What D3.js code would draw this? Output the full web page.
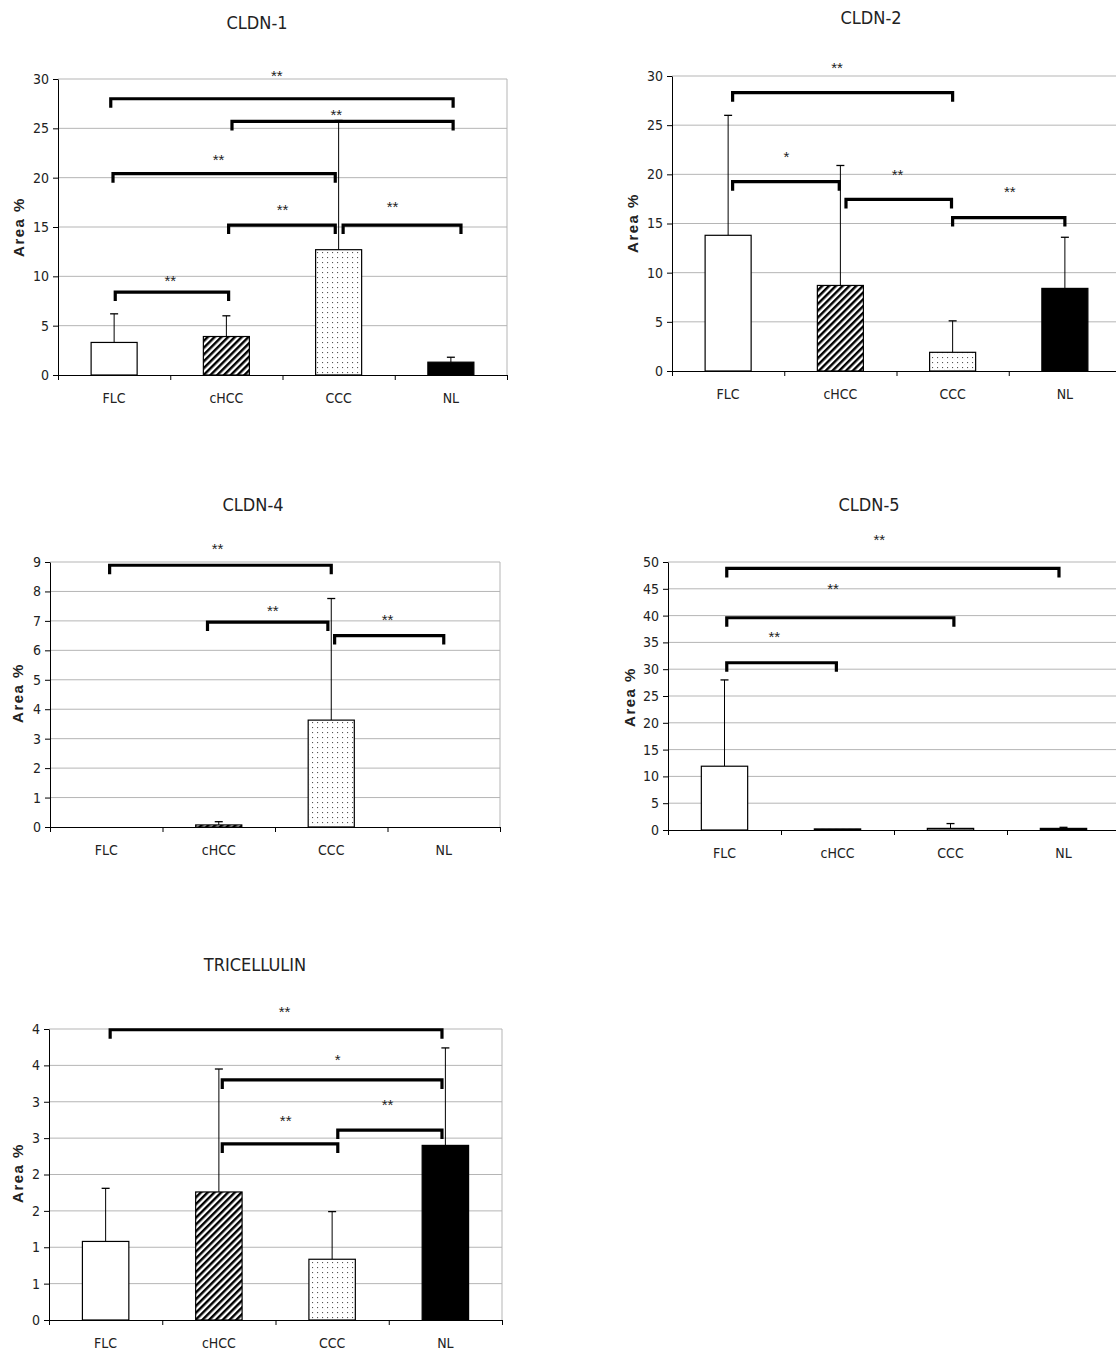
<!DOCTYPE html>
<html>
<head>
<meta charset="utf-8">
<script src="https://cdn.jsdelivr.net/npm/d3@7"></script>
<style>
body{margin:0;background:#fff;}
text{font-family:"Liberation Sans Narrow","DejaVu Sans Condensed","Arial Narrow",sans-serif;}
</style>
</head>
<body>
<div id="chart"></div>
<script>
var categories = ["FLC", "cHCC", "CCC", "NL"];

// means and standard deviations (Area %)
var cldn1Mean = [3.3, 3.9, 12.7, 1.3];
var cldn1Sd   = [2.9, 2.1, 13.1, 0.5];
var cldn2Mean = [13.8, 8.7, 1.9, 8.4];
var cldn2Sd   = [12.2, 12.2, 3.2, 5.2];
var cldn4Mean = [0, 0.07, 3.63, 0];
var cldn4Sd   = [0, 0.11, 4.13, 0];
var cldn5Mean = [11.9, 0.2, 0.3, 0.3];
var cldn5Sd   = [16.1, 0, 0.9, 0.2];
var tricMean  = [1.08, 1.76, 0.835, 2.40];
var tricSd    = [0.73, 1.69, 0.655, 1.34];

// tick values / labels
var ticks30 = [0, 5, 10, 15, 20, 25, 30];
var ticks9  = [0, 1, 2, 3, 4, 5, 6, 7, 8, 9];
var ticks50 = [0, 5, 10, 15, 20, 25, 30, 35, 40, 45, 50];
var tricTicks = [0, 0.5, 1, 1.5, 2, 2.5, 3, 3.5, 4];
var tricTickLabels = ["0", "1", "1", "2", "2", "3", "3", "4", "4"];

// significance brackets: [from, to, level, label, labelPos, labelLevel]
// from/to/labelPos in category units (0 = FLC ... 3 = NL)
var cldn1Brackets = [
  [-0.03, 3.02, 28.0, "**", 1.45, 30.6],
  [1.05, 3.02, 25.7, "**", 1.98, 26.7],
  [-0.01, 1.97, 20.4, "**", 0.93, 22.1],
  [1.02, 1.97, 15.2, "**", 1.50, 17.0],
  [2.04, 3.09, 15.2, "**", 2.48, 17.3],
  [0.01, 1.02, 8.4, "**", 0.50, 9.8]
];
var cldn2Brackets = [
  [0.04, 2.0, 28.3, "**", 0.97, 31.1],
  [0.04, 0.99, 19.25, "*", 0.52, 22.1],
  [1.05, 1.99, 17.45, "**", 1.51, 20.2],
  [2.0, 3.0, 15.6, "**", 2.51, 18.5]
];
var cldn4Brackets = [
  [0.03, 2.0, 8.89, "**", 0.99, 9.56],
  [0.9, 1.97, 6.96, "**", 1.48, 7.44],
  [2.03, 3.0, 6.5, "**", 2.5, 7.12]
];
var cldn5Brackets = [
  [0.02, 2.96, 48.8, "**", 1.37, 54.7],
  [0.02, 2.03, 39.6, "**", 0.96, 45.6],
  [0.02, 0.99, 31.2, "**", 0.44, 36.5]
];
var tricBrackets = [
  [0.04, 2.97, 3.99, "**", 1.58, 4.27],
  [1.03, 2.97, 3.30, "*", 2.05, 3.62],
  [2.05, 2.97, 2.61, "**", 2.49, 3.0],
  [1.03, 2.05, 2.42, "**", 1.59, 2.77]
];

var fills = ["#fff", "url(#hatch)", "url(#dots)", "#000"];

var panels = [
  {title: "CLDN-1", mean: cldn1Mean, sd: cldn1Sd, yMax: 30, ticks: ticks30, brackets: cldn1Brackets,
   box: {x0: 58, x1: 507, top: 79, bottom: 375}, titlePos: [257, 23], ylabPos: [19, 227]},
  {title: "CLDN-2", mean: cldn2Mean, sd: cldn2Sd, yMax: 30, ticks: ticks30, brackets: cldn2Brackets,
   box: {x0: 672, x1: 1121, top: 76, bottom: 371}, titlePos: [871, 18], ylabPos: [633, 223]},
  {title: "CLDN-4", mean: cldn4Mean, sd: cldn4Sd, yMax: 9, ticks: ticks9, brackets: cldn4Brackets,
   box: {x0: 50, x1: 500, top: 562, bottom: 827}, titlePos: [253, 505], ylabPos: [18, 693]},
  {title: "CLDN-5", mean: cldn5Mean, sd: cldn5Sd, yMax: 50, ticks: ticks50, brackets: cldn5Brackets,
   box: {x0: 668, x1: 1120, top: 562, bottom: 830}, titlePos: [869, 505], ylabPos: [630, 697]},
  {title: "TRICELLULIN", mean: tricMean, sd: tricSd, yMax: 4, ticks: tricTicks, tickLabels: tricTickLabels,
   brackets: tricBrackets, box: {x0: 49, x1: 502, top: 1029, bottom: 1320}, titlePos: [255, 965], ylabPos: [18, 1173]}
];

var svg = d3.select("#chart").append("svg")
  .attr("width", 1116).attr("height", 1358);

var defs = svg.append("defs");
var hatch = defs.append("pattern").attr("id", "hatch")
  .attr("patternUnits", "userSpaceOnUse").attr("width", 4.8).attr("height", 4.8)
  .attr("patternTransform", "rotate(45)");
hatch.append("rect").attr("width", 4.8).attr("height", 4.8).attr("fill", "#fff");
hatch.append("line").attr("x1", 1.2).attr("x2", 1.2).attr("y1", 0).attr("y2", 4.8)
  .attr("stroke", "#000").attr("stroke-width", 2.5);

var dots = defs.append("pattern").attr("id", "dots")
  .attr("patternUnits", "userSpaceOnUse").attr("width", 5).attr("height", 5);
dots.append("rect").attr("width", 5).attr("height", 5).attr("fill", "#fff");
dots.append("rect").attr("x", 2).attr("y", 2).attr("width", 1.1).attr("height", 1.1).attr("fill", "#555");
dots.append("rect").attr("x", 4.5).attr("y", 4.5).attr("width", 0.8).attr("height", 0.8).attr("fill", "#ccc");

panels.forEach(drawPanel);

function drawPanel(p) {
  var b = p.box;
  var g = svg.append("g");
  var y = d3.scaleLinear().domain([0, p.yMax]).range([b.bottom, b.top]);
  var xPos = d3.scaleLinear().domain([-0.5, 3.5]).range([b.x0, b.x1]);
  var xBand = d3.scaleBand().domain(categories).range([b.x0, b.x1])
    .paddingInner(0.59).paddingOuter(0.295);

  // grid + plot box
  g.append("g").selectAll("line").data(p.ticks.filter(function(t){ return t > 0; }))
    .join("line")
    .attr("x1", b.x0).attr("x2", b.x1)
    .attr("y1", function(d){ return y(d); }).attr("y2", function(d){ return y(d); })
    .attr("stroke", "#b5b5b5").attr("stroke-width", 1);
  g.append("line").attr("x1", b.x1).attr("x2", b.x1).attr("y1", b.top).attr("y2", b.bottom)
    .attr("stroke", "#b5b5b5");

  // error bars (upper only)
  var eb = g.append("g").selectAll("g").data(p.mean.map(function(m, i){ return {m: m, s: p.sd[i], c: categories[i]}; })
      .filter(function(d){ return d.s > 0; }))
    .join("g");
  eb.append("line")
    .attr("x1", function(d){ return xBand(d.c) + xBand.bandwidth() / 2; })
    .attr("x2", function(d){ return xBand(d.c) + xBand.bandwidth() / 2; })
    .attr("y1", function(d){ return y(d.m); })
    .attr("y2", function(d){ return y(d.m + d.s); })
    .attr("stroke", "#000").attr("stroke-width", 1);
  eb.append("line")
    .attr("x1", function(d){ return xBand(d.c) + xBand.bandwidth() / 2 - 4; })
    .attr("x2", function(d){ return xBand(d.c) + xBand.bandwidth() / 2 + 4; })
    .attr("y1", function(d){ return y(d.m + d.s); })
    .attr("y2", function(d){ return y(d.m + d.s); })
    .attr("stroke", "#000").attr("stroke-width", 1.3);

  // bars
  g.append("g").selectAll("rect").data(p.mean).join("rect")
    .attr("x", function(d, i){ return xBand(categories[i]); })
    .attr("width", xBand.bandwidth())
    .attr("y", function(d){ return y(d); })
    .attr("height", function(d){ return y(0) - y(d); })
    .attr("fill", function(d, i){ return fills[i]; })
    .attr("stroke", "#000").attr("stroke-width", function(d){ return d > 0 ? 1.2 : 0; });

  // axes
  var ya = g.append("g").attr("transform", "translate(" + b.x0 + ",0)")
    .call(d3.axisLeft(y).tickValues(p.ticks)
      .tickFormat(function(d, i){ return p.tickLabels ? p.tickLabels[i] : d; })
      .tickSize(5).tickSizeOuter(0).tickPadding(4));
  ya.selectAll("text").attr("font-size", 14).attr("fill", "#222");

  g.append("g").attr("transform", "translate(0," + b.bottom + ")")
    .call(d3.axisBottom(xPos).tickValues([-0.5, 0.5, 1.5, 2.5, 3.5]).tickFormat("")
      .tickSize(5).tickSizeOuter(0));

  var xa = g.append("g").attr("transform", "translate(0," + b.bottom + ")")
    .call(d3.axisBottom(xBand).tickSize(0).tickPadding(18));
  xa.select(".domain").remove();
  xa.selectAll("text").attr("font-size", 14).attr("fill", "#222");

  // brackets
  var br = g.append("g").selectAll("g").data(p.brackets).join("g");
  br.append("path")
    .attr("d", function(d){
      var x1 = xPos(d[0]), x2 = xPos(d[1]), yy = y(d[2]);
      return "M" + x1 + "," + (yy + 9) + "V" + yy + "H" + x2 + "V" + (yy + 9);
    })
    .attr("fill", "none").attr("stroke", "#000").attr("stroke-width", 3.2);
  br.append("text")
    .attr("x", function(d){ return xPos(d[4]); })
    .attr("y", function(d){ return y(d[5]) + 8; })
    .attr("text-anchor", "middle").attr("font-size", 15).attr("fill", "#222")
    .style("font-family", "'Liberation Sans', Arial, sans-serif")
    .text(function(d){ return d[3]; });

  // titles
  g.append("text").attr("x", p.titlePos[0]).attr("y", p.titlePos[1] + 6)
    .attr("text-anchor", "middle").attr("font-size", 18).attr("fill", "#222")
    .text(p.title);
  g.append("text")
    .attr("transform", "translate(" + p.ylabPos[0] + "," + p.ylabPos[1] + ") rotate(-90)")
    .attr("text-anchor", "middle").attr("dy", "0.35em")
    .attr("font-size", 15).attr("font-weight", "bold").attr("letter-spacing", 1.5)
    .style("font-family", "'Liberation Sans', Arial, sans-serif")
    .attr("fill", "#222")
    .text("Area %");
}
</script>
</body>
</html>
